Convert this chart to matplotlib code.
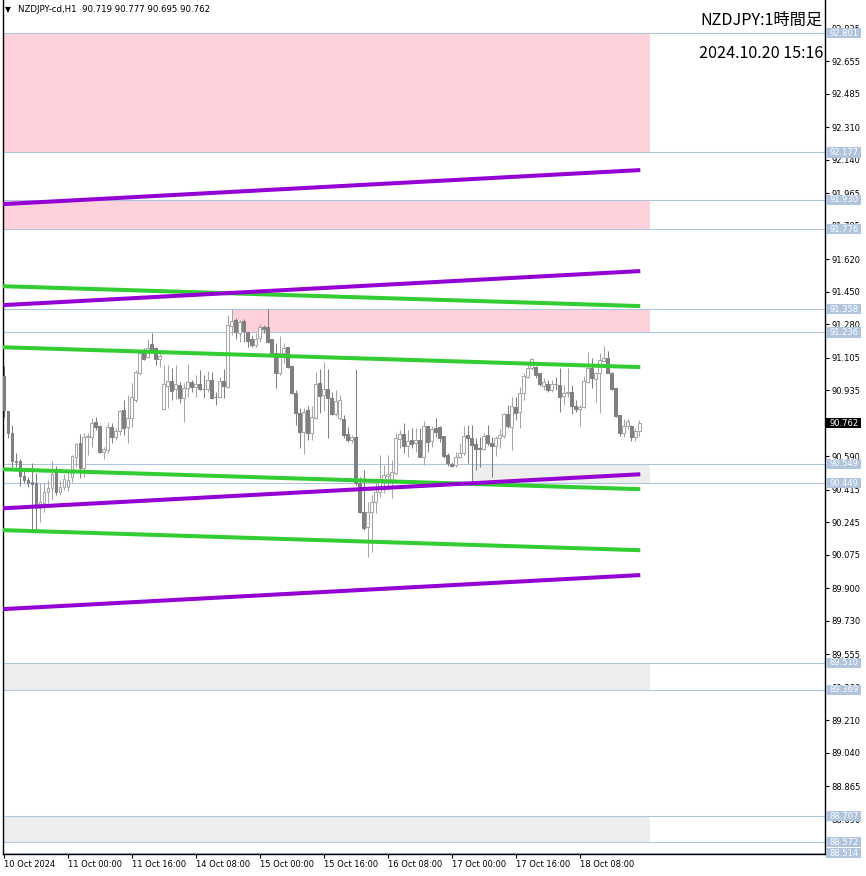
import matplotlib
matplotlib.use("Agg")
import matplotlib.pyplot as plt
import matplotlib.transforms as mtransforms
from matplotlib.patches import Rectangle

# ---- hourly OHLC, NZDJPY H1, 10 Oct 08:00 .. 18 Oct 23:00 ----
opens = [
    91.008, 90.825, 90.709, 90.563, 90.565, 90.485, 90.464, 90.453, 90.448, 90.317,
    90.344, 90.401, 90.422, 90.506, 90.401, 90.427, 90.427, 90.479, 90.584, 90.657,
    90.527, 90.689, 90.689, 90.767, 90.746, 90.610, 90.621, 90.741, 90.689, 90.720,
    90.830, 90.741, 90.788, 90.882, 91.023, 91.128, 91.107, 91.175, 91.154, 91.097,
    90.835, 90.955, 90.982, 90.940, 90.960, 90.893, 90.945, 90.976, 90.950, 90.966,
    90.940, 90.940, 90.987, 90.898, 90.898, 90.982, 90.950, 91.269, 91.300, 91.232,
    91.295, 91.238, 91.201, 91.170, 91.206, 91.264, 91.264, 91.201, 91.128, 91.023,
    91.128, 91.159, 91.060, 90.919, 90.814, 90.715, 90.830, 90.709, 90.788, 90.971,
    90.908, 90.940, 90.893, 90.809, 90.788, 90.783, 90.704, 90.673, 90.689, 90.448,
    90.297, 90.218, 90.297, 90.349, 90.401, 90.464, 90.485, 90.464, 90.500, 90.678,
    90.704, 90.641, 90.673, 90.657, 90.673, 90.584, 90.746, 90.668, 90.736, 90.741,
    90.694, 90.595, 90.547, 90.542, 90.584, 90.605, 90.699, 90.683, 90.652, 90.631,
    90.626, 90.699, 90.657, 90.641, 90.683, 90.694, 90.809, 90.741, 90.846, 90.820,
    90.919, 91.002, 91.049, 91.055, 91.023, 90.955, 90.966, 90.934, 90.966, 90.960,
    90.903, 90.919, 90.924, 90.851, 90.835, 90.846, 90.976, 91.049, 90.992, 91.023,
    91.086, 91.102, 91.023, 90.945, 90.804, 90.709, 90.746, 90.746, 90.689, 90.719,
]
highs = [
    91.060, 90.828, 90.751, 90.605, 90.573, 90.516, 90.479, 90.552, 90.500, 90.448,
    90.448, 90.464, 90.563, 90.537, 90.464, 90.495, 90.521, 90.595, 90.657, 90.704,
    90.709, 90.709, 90.788, 90.794, 90.751, 90.636, 90.767, 90.762, 90.736, 90.830,
    90.882, 90.908, 90.971, 91.039, 91.149, 91.154, 91.201, 91.232, 91.159, 91.133,
    91.065, 91.065, 91.049, 91.065, 90.976, 90.971, 91.070, 90.987, 91.013, 91.039,
    91.013, 91.034, 91.029, 90.924, 91.002, 91.044, 91.327, 91.358, 91.311, 91.300,
    91.306, 91.238, 91.217, 91.232, 91.280, 91.274, 91.358, 91.201, 91.180, 91.217,
    91.180, 91.159, 91.065, 90.934, 90.840, 90.840, 90.851, 90.851, 91.029, 91.044,
    91.081, 91.044, 90.924, 90.934, 90.908, 90.804, 90.741, 90.699, 91.044, 90.479,
    90.516, 90.349, 90.386, 90.474, 90.595, 90.542, 90.595, 90.568, 90.709, 90.725,
    90.762, 90.725, 90.736, 90.736, 90.736, 90.772, 90.746, 90.746, 90.788, 90.746,
    90.694, 90.605, 90.558, 90.610, 90.657, 90.746, 90.751, 90.751, 90.683, 90.689,
    90.709, 90.751, 90.689, 90.694, 90.730, 90.814, 90.856, 90.898, 90.898, 90.950,
    91.023, 91.070, 91.102, 91.060, 91.023, 90.997, 90.987, 90.987, 91.002, 91.049,
    90.960, 91.049, 90.960, 90.882, 90.856, 91.008, 91.133, 91.102, 91.029, 91.128,
    91.164, 91.138, 91.029, 90.945, 90.804, 90.783, 90.783, 90.751, 90.736, 90.777,
]
lows = [
    90.794, 90.683, 90.532, 90.532, 90.433, 90.448, 90.427, 90.203, 90.203, 90.245,
    90.297, 90.344, 90.359, 90.386, 90.386, 90.412, 90.407, 90.453, 90.532, 90.474,
    90.479, 90.595, 90.636, 90.725, 90.605, 90.573, 90.605, 90.657, 90.673, 90.699,
    90.699, 90.657, 90.741, 90.872, 91.013, 91.091, 91.102, 91.144, 91.065, 91.055,
    90.830, 90.840, 90.882, 90.887, 90.867, 90.767, 90.898, 90.924, 90.898, 90.934,
    90.893, 90.924, 90.887, 90.856, 90.893, 90.893, 90.945, 91.222, 91.201, 91.185,
    91.185, 91.159, 91.159, 91.159, 91.185, 91.232, 91.180, 91.118, 90.945, 91.013,
    91.075, 91.050, 90.914, 90.751, 90.631, 90.600, 90.673, 90.673, 90.786, 90.814,
    90.825, 90.683, 90.804, 90.799, 90.778, 90.683, 90.662, 90.657, 90.438, 90.291,
    90.203, 90.062, 90.088, 90.291, 90.375, 90.396, 90.412, 90.370, 90.490, 90.631,
    90.605, 90.584, 90.631, 90.610, 90.584, 90.542, 90.610, 90.636, 90.689, 90.662,
    90.579, 90.537, 90.532, 90.532, 90.579, 90.595, 90.553, 90.453, 90.516, 90.532,
    90.621, 90.647, 90.479, 90.589, 90.631, 90.683, 90.736, 90.621, 90.778, 90.736,
    90.882, 90.997, 91.039, 90.997, 90.955, 90.934, 90.924, 90.924, 90.934, 90.820,
    90.856, 90.898, 90.809, 90.820, 90.746, 90.840, 90.971, 90.945, 90.872, 90.814,
    91.081, 91.023, 90.934, 90.794, 90.694, 90.689, 90.730, 90.668, 90.668, 90.695,
]
closes = [
    90.830, 90.709, 90.563, 90.560, 90.485, 90.464, 90.448, 90.443, 90.317, 90.349,
    90.401, 90.422, 90.495, 90.401, 90.427, 90.469, 90.464, 90.589, 90.652, 90.527,
    90.689, 90.694, 90.762, 90.741, 90.610, 90.626, 90.741, 90.689, 90.720, 90.825,
    90.736, 90.788, 90.898, 91.029, 91.128, 91.097, 91.154, 91.149, 91.097, 91.112,
    90.966, 90.982, 90.929, 90.966, 90.893, 90.945, 90.976, 90.950, 90.966, 90.940,
    90.939, 90.987, 90.893, 90.897, 90.982, 90.955, 91.274, 91.295, 91.238, 91.290,
    91.243, 91.190, 91.170, 91.201, 91.264, 91.253, 91.185, 91.128, 91.023, 91.128,
    91.154, 91.055, 90.919, 90.814, 90.715, 90.820, 90.709, 90.794, 90.966, 90.903,
    90.940, 90.893, 90.809, 90.877, 90.882, 90.699, 90.673, 90.689, 90.448, 90.297,
    90.213, 90.297, 90.349, 90.401, 90.469, 90.490, 90.495, 90.506, 90.683, 90.704,
    90.641, 90.668, 90.652, 90.673, 90.584, 90.746, 90.662, 90.730, 90.715, 90.683,
    90.589, 90.553, 90.537, 90.584, 90.605, 90.694, 90.683, 90.647, 90.626, 90.626,
    90.694, 90.657, 90.641, 90.683, 90.699, 90.809, 90.746, 90.851, 90.814, 90.919,
    91.008, 91.049, 91.097, 91.013, 90.966, 90.976, 90.934, 90.966, 90.965, 90.898,
    90.919, 90.924, 90.851, 90.835, 90.846, 90.982, 91.049, 90.997, 91.023, 91.091,
    91.102, 91.023, 90.940, 90.799, 90.709, 90.746, 90.772, 90.689, 90.720, 90.762,
]

# horizontal levels (light blue lines with labels on the price scale)
levels = [92.801, 92.177, 91.930, 91.776, 91.358, 91.236, 90.549, 90.449,
          89.510, 89.369, 88.707, 88.572, 88.514]

# zones: (low, high, first bar)
pink_zones = [(92.177, 92.801, -5), (91.776, 91.930, -5), (91.236, 91.358, 57)]
gray_zones = [(90.449, 90.549, 117), (89.369, 89.510, -5), (88.572, 88.707, -5)]
zone_end_bar = 161.7

# trend lines: price at left edge / at last bar
trend_bars = [-0.3, 159.2]
purple_lines = [(91.907, 92.085), (91.379, 91.557), (90.317, 90.495), (89.790, 89.968)]
green_lines = [(91.478, 91.374), (91.159, 91.055), (90.521, 90.417), (90.203, 90.098)]

price_ticks = [92.825, 92.655, 92.485, 92.310, 92.140, 91.965, 91.795, 91.620,
               91.450, 91.280, 91.105, 90.935, 90.760, 90.590, 90.415, 90.245,
               90.075, 89.900, 89.730, 89.555, 89.380, 89.210, 89.040, 88.865, 88.690]
time_tick_bars = [0, 16, 32, 48, 64, 80, 96, 112, 128, 144]
time_tick_labels = ["10 Oct 2024", "11 Oct 00:00", "11 Oct 16:00", "14 Oct 08:00",
                    "15 Oct 00:00", "15 Oct 16:00", "16 Oct 08:00", "17 Oct 00:00",
                    "17 Oct 16:00", "18 Oct 08:00"]

LEVEL_BLUE = "#B0C4DE"
PINK = "#FFD1DA"
ZONE_GRAY = "#EEEEEE"
BULL = "#A6A6A6"
BEAR = "#808080"
PURPLE = "#9400D3"
GREEN = "#32CD32"

W, H = 866, 876
fig = plt.figure(figsize=(W / 100, H / 100), dpi=100)
ax = fig.add_axes([2.5 / W, 22 / H, 822.5 / W, 854 / H])
ax.set_xlim(-0.33, 205.4)
ax.set_ylim(88.510, 92.974)

for lo, hi, start in pink_zones:
    ax.add_patch(Rectangle((start, lo), zone_end_bar - start, hi - lo,
                           facecolor=PINK, edgecolor="none", zorder=0.5))
for lo, hi, start in gray_zones:
    ax.add_patch(Rectangle((start, lo), zone_end_bar - start, hi - lo,
                           facecolor=ZONE_GRAY, edgecolor="none", zorder=0.5))

for lv in levels:
    ax.axhline(lv, color=LEVEL_BLUE, linewidth=0.8, zorder=1)

# candles
for i, (o, h, l, c) in enumerate(zip(opens, highs, lows, closes)):
    bull = c > o
    col = BULL if bull else BEAR
    ax.vlines(i, l, h, color=col, linewidth=0.75, zorder=2)
    body = max(abs(c - o), 0.0015)
    ax.add_patch(Rectangle((i - 0.32, min(o, c)), 0.64, body,
                           facecolor="white" if bull else BEAR,
                           edgecolor=col, linewidth=0.75, zorder=3))

for y0, y1 in green_lines:
    ax.plot(trend_bars, [y0, y1], color=GREEN, linewidth=2.9,
            solid_capstyle="butt", zorder=4)
for y0, y1 in purple_lines:
    ax.plot(trend_bars, [y0, y1], color=PURPLE, linewidth=2.9,
            solid_capstyle="butt", zorder=4)

# axes styling
for side in ["left", "bottom", "right"]:
    ax.spines[side].set_color("black")
    ax.spines[side].set_linewidth(1.0)
ax.spines["top"].set_visible(False)

ax.yaxis.tick_right()
ax.set_yticks(price_ticks)
ax.set_yticklabels([f"{v:.3f}" for v in price_ticks])
ax.set_xticks(time_tick_bars)
ax.set_xticklabels(time_tick_labels)
for lab in ax.get_xticklabels():
    lab.set_horizontalalignment("left")
ax.tick_params(axis="both", direction="out", length=3, width=0.8,
               labelsize=6, colors="black", pad=1.5)

# level tags on the price scale
blend = mtransforms.blended_transform_factory(ax.transAxes, ax.transData)
tag_h = 0.054
for lv in levels:
    ax.add_patch(Rectangle((1.0018, lv - tag_h / 2), 0.0425, tag_h, transform=blend,
                           facecolor=LEVEL_BLUE, edgecolor="none",
                           clip_on=False, zorder=10))
    ax.text(1.0055, lv, f"{lv:.3f}", transform=blend, fontsize=6, color="white",
            ha="left", va="center", clip_on=False, zorder=11)

last_price = closes[-1]
ax.add_patch(Rectangle((1.0018, last_price - tag_h / 2), 0.0425, tag_h, transform=blend,
                       facecolor="black", edgecolor="none", clip_on=False, zorder=10))
ax.text(1.0055, last_price, f"{last_price:.3f}", transform=blend, fontsize=6,
        color="white", ha="left", va="center", clip_on=False, zorder=11)

# header and title
fig.text(5 / W, 1 - 10 / H, "\u25bc", fontsize=5.5, color="black", va="center")
fig.text(18 / W, 1 - 10 / H,
         f"NZDJPY-cd,H1  {opens[-1]:.3f} {highs[-1]:.3f} {lows[-1]:.3f} {closes[-1]:.3f}",
         fontsize=6.2, color="black", va="center")
jp = ["Noto Sans CJK JP", "DejaVu Sans"]
fig.text(823 / W, 1 - 20 / H, "NZDJPY:1時間足", family=jp, fontsize=11.7,
         ha="right", va="center")
fig.text(823 / W, 1 - 54 / H, "2024.10.20 15:16", family=jp, fontsize=11.7,
         ha="right", va="center")

fig.savefig("out.png", dpi=100)
